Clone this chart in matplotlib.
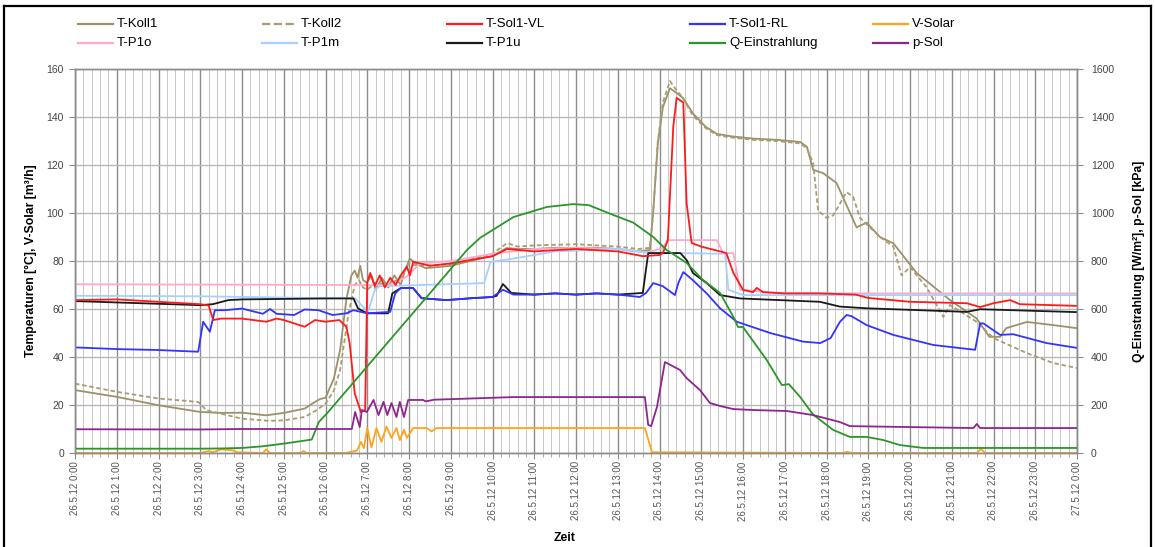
import matplotlib
matplotlib.use("Agg")
import matplotlib.pyplot as plt
from matplotlib.lines import Line2D
from matplotlib.ticker import MultipleLocator

plt.rcParams['font.family'] = ['Liberation Sans', 'DejaVu Sans']

# --- data (x in hours since 26.5.12 0:00) ---
tick_labels = ["26.5.12 %d:00" % h for h in range(24)] + ["27.5.12 0:00"]

koll1_h = [0, 1, 2, 3, 3.5, 4, 4.58, 5, 5.5, 5.75, 5.87, 6.0, 6.1, 6.2, 6.35, 6.5, 6.62, 6.7, 6.77,
           6.83, 6.9, 6.99, 7.1, 7.2, 7.35, 7.5, 7.65, 7.8, 7.9, 8.02, 8.15, 8.4, 9.0, 9.7, 10.0, 10.34,
           10.6, 11.0, 11.5, 12.0, 12.5, 13.0, 13.5, 13.77, 13.85, 13.96, 14.08, 14.25, 14.37, 14.56,
           14.8, 15.1, 15.37, 15.7, 16.24, 16.8, 17.37, 17.53, 17.68, 17.92, 18.24, 18.72, 18.96, 19.28,
           19.6, 20.16, 20.96, 21.6, 21.9, 22.16, 22.3, 22.8, 23.43, 24]
koll1 = [26.2, 23.4, 19.9, 17.1, 16.7, 16.8, 15.7, 16.7, 18.5, 21.3, 22.5, 23.0, 27, 31, 43, 64, 74, 76, 73,
         78, 72, 71, 74, 68, 73, 69, 74, 70, 76, 81, 79, 77, 78, 81, 82, 85.4,
         85, 85, 85.5, 85.5, 85.5, 85, 84, 84.6, 101, 129, 144, 152, 150.5, 148,
         141.5, 136, 133, 132, 131, 130.5, 129.6, 127.6, 118, 116.6, 112.5, 94, 96, 90,
         87.4, 75, 63.7, 56, 48.4, 48.4, 52, 54.6, 53.3, 52]

koll2_h = [0, 1, 2, 2.95, 3.15, 4, 4.65, 5, 5.5, 5.8, 6.0, 6.2, 6.35, 6.55, 6.7, 6.8, 6.9, 7.0, 7.2, 7.5,
           7.8, 8.0, 8.2, 9.0, 10.0, 10.35, 10.6, 11.0, 12.0, 13.0, 13.5, 13.77, 13.85, 13.96, 14.08,
           14.25, 14.37, 14.56, 14.8, 15.1, 15.37, 15.7, 16.24, 16.8, 17.37, 17.53, 17.68, 17.8, 18.0,
           18.16, 18.48, 18.64, 18.8, 19.28, 19.6, 19.8, 20.0, 20.4, 20.8, 20.96, 21.6, 22.0, 22.8,
           23.43, 24]
koll2 = [28.9, 25.5, 22.7, 21.3, 17.8, 14.3, 13.4, 13.6, 15, 18, 20.6, 26, 34.5, 58, 70, 72, 69, 68, 71, 70,
         73, 79, 78, 78.5, 83, 87.5, 86, 86.5, 87, 86, 85, 85.5, 100, 130, 146,
         155, 152, 148, 140.5, 135.5, 132.5, 131.5, 130.5, 130, 129, 127, 120.8, 101, 98,
         99, 108.7, 106.7, 98, 90, 86, 74, 77.5, 69, 56.7, 61.7, 54.6, 47.9, 41.6,
         37.5, 35.4]

vl_h = [0, 1, 2, 3, 3.2, 3.31, 3.5, 4, 4.58, 4.83, 5.0, 5.5, 5.75, 6.0, 6.33, 6.5, 6.58, 6.7, 6.85, 6.95,
        7.0, 7.07, 7.18, 7.3, 7.42, 7.55, 7.68, 7.8, 7.95, 8.02, 8.1, 8.5, 9.0, 10.0, 10.35, 11.0, 12.0,
        13.0, 13.6, 14.0, 14.08, 14.2, 14.33, 14.41, 14.57, 14.65, 14.77, 15.0, 15.45, 15.6, 15.77, 16.0,
        16.24, 16.33, 16.48, 17.0, 17.84, 18.7, 19.0, 20.0, 21.36, 21.68, 22.0, 22.4, 22.63, 24]
vl = [63.7, 64, 63, 62, 61.5, 55.4, 56, 56, 54.7, 56, 55.4, 52.6, 55.4, 54.7, 55.4, 52.6, 45.6, 24.8, 17, 18,
      71, 75, 69.6, 74, 69, 73, 70, 74, 77.6, 74, 79.7, 78, 79, 82, 85, 84, 85,
      84, 82, 82.5, 83.3, 88.7, 136, 148, 146, 104, 87.5, 86, 84, 83.3, 75, 68,
      67, 68.8, 67, 66.5, 66.5, 66, 64.6, 63, 62.4, 60.8, 62.4, 63.7, 62, 61.3]

rl_h = [0, 1, 2, 2.95, 3.07, 3.23, 3.35, 3.6, 4.0, 4.5, 4.67, 4.83, 5.25, 5.5, 5.83, 6.17, 6.5, 6.67, 7.0,
        7.55, 7.67, 7.8, 8.1, 8.3, 8.9, 9.5, 10.0, 10.25, 10.5, 11.0, 11.5, 12.0, 12.5, 13.0, 13.53,
        13.68, 13.85, 14.08, 14.37, 14.45, 14.57, 14.8, 15.13, 15.45, 15.85, 16.65, 17.44, 17.85, 18.1,
        18.32, 18.48, 18.6, 18.96, 19.6, 20.56, 21.56, 21.68, 21.76, 22.16, 22.47, 23.27, 24]
rl = [44, 43.3, 42.9, 42.2, 54.7, 50.5, 59.5, 59.5, 60.2, 58, 60, 58, 57.5, 59.8, 59.5, 57.5, 58.2, 59.5, 58.2,
      58.8, 66.5, 68.7, 68.7, 64.5, 63.7, 64.5, 65, 68, 66, 66, 66.5, 66, 66.5, 66, 65,
      66.7, 70.8, 69.5, 65.8, 70.8, 75.4, 72, 66.5, 60.3, 54.7, 50, 46.4, 45.8, 47.9,
      54.6, 57.5, 57, 53.3, 49.2, 45, 43, 54, 54, 49.2, 49.5, 45.8, 43.8]

vsolar_h = [0, 3.0, 3.2, 3.3, 3.5, 3.75, 3.9, 4.5, 4.58, 4.67, 5.0, 5.4, 5.47, 5.55, 6.5, 6.6, 6.75, 6.85,
            6.92, 7.0, 7.1, 7.22, 7.34, 7.46, 7.58, 7.7, 7.78, 7.88, 7.95, 8.1, 8.42, 8.54, 8.66, 13.65,
            13.82, 18.4, 18.5, 18.6, 21.6, 21.7, 21.8, 24]
vsolar = [0, 0, 0.8, 0.3, 1.5, 1.2, 0.3, 0, 1.5, 0, 0, 0, 0.8, 0, 0, 0.5, 1, 4.6,
          2, 10.4, 2.3, 10.4, 4.6, 11, 6.3, 10.4, 5.4, 9.7, 6.3, 10.4, 10.4, 9, 10.4, 10.4,
          0.3, 0, 0.5, 0, 0, 1.7, 0, 0]

p1o_h = [0, 6.8, 7.55, 7.95, 8.26, 9.0, 10.0, 11.0, 12.0, 13.0, 13.7, 14.08, 14.2, 15.37, 15.53, 15.77,
         15.93, 17.0, 24]
p1o = [70.3, 70, 70, 73.5, 79, 80, 83, 85, 85.5, 85, 83.5, 85.4, 88.7, 88.7, 83.3, 83.3,
       68, 66.5, 66.5]

p1m_h = [0, 3.0, 6.0, 6.7, 7.02, 7.18, 7.3, 9.8, 9.95, 10.5, 11.5, 13.0, 13.8, 15.57, 15.65, 16.0, 24]
p1m = [65.5, 65.3, 64.5, 64.5, 58.8, 68, 69.5, 70.8, 79.6, 81, 84, 85, 83.5, 83, 68, 65.8, 65.8]

p1u_h = [0, 3.0, 3.3, 3.67, 4.0, 6.0, 6.67, 6.78, 7.0, 7.5, 7.6, 7.8, 8.1, 8.3, 8.9, 9.5, 10.0, 10.1, 10.25,
         10.45, 11.0, 11.5, 12.0, 12.5, 13.0, 13.6, 13.73, 14.5, 14.65, 14.8, 15.13, 15.45, 15.93, 17.84,
         18.32, 18.96, 21.36, 21.68, 24]
p1u = [63.3, 61.6, 62, 63.7, 64, 64.4, 64.4, 60.2, 58.2, 58.2, 66.5, 68.7, 68.7, 64.5, 63.7, 64.5, 65, 65.5, 70.4,
       66.7, 66, 66.5, 66, 66.5, 66, 66.7, 83.3, 83.3, 80.4, 75, 70.8, 65.8, 64.4, 63,
       61, 60.3, 58.8, 59.9, 58.7]

q_h = [0, 3.0, 3.5, 4.0, 4.5, 5.0, 5.67, 5.84, 6.04, 9.39, 9.7, 10.5, 11.3, 11.93, 12.3, 12.89, 13.37,
       13.85, 14.17, 14.65, 15.04, 15.45, 15.77, 15.88, 16.0, 16.57, 16.93, 17.1, 17.37, 17.68, 18.16,
       18.56, 18.96, 19.36, 19.76, 20.32, 24]
q = [18, 18, 19, 21, 28, 39, 56, 129, 166, 846, 896, 983, 1025, 1037, 1033, 992, 960,
     900, 846, 792, 721, 667, 567, 525, 525, 387, 283, 287, 233, 160, 96,
     67, 67, 54, 33, 21, 21]

psol_h = [0, 3.0, 4.0, 6.63, 6.71, 6.82, 6.87, 6.99, 7.15, 7.27, 7.39, 7.48, 7.58, 7.7, 7.78, 7.88, 7.98,
          8.05, 8.34, 8.4, 8.6, 10.5, 13.65, 13.73, 13.8, 13.94, 14.13, 14.49, 14.65, 14.97, 15.21, 15.45,
          15.77, 16.25, 17.05, 17.68, 18.32, 18.56, 20.0, 21.52, 21.6, 21.68, 24]
psol = [99, 98, 100, 100, 171, 108, 179, 171, 221, 158, 213, 158, 208, 150, 213, 150, 221,
        221, 221, 215, 222, 233, 233, 117, 112, 192, 379, 346, 312, 262, 208, 196,
        183, 179, 175, 158, 129, 112, 108, 104, 121, 104, 104]

# --- figure ---
fig = plt.figure(figsize=(11.55, 5.47), dpi=100)
ax = fig.add_axes([75 / 1155, 1 - 453 / 547, 1002 / 1155, 384 / 547])
ax2 = ax.twinx()

lw = 1.3
l_koll1, = ax.plot(koll1_h, koll1, color='#9c9169', lw=lw, label='T-Koll1')
l_koll2, = ax.plot(koll2_h, koll2, color='#a89c72', lw=lw, ls=(0, (2.5, 1.5)), label='T-Koll2')
l_p1o, = ax.plot(p1o_h, p1o, color='#ffaacc', lw=lw, label='T-P1o')
l_p1m, = ax.plot(p1m_h, p1m, color='#a6d0ff', lw=lw, label='T-P1m')
l_p1u, = ax.plot(p1u_h, p1u, color='#1a1a1a', lw=lw, label='T-P1u')
l_rl, = ax.plot(rl_h, rl, color='#3333ff', lw=lw, label='T-Sol1-RL')
l_vl, = ax.plot(vl_h, vl, color='#ff1a1a', lw=lw, label='T-Sol1-VL')
l_vs, = ax.plot(vsolar_h, vsolar, color='#ffa31a', lw=lw, label='V-Solar')
l_q, = ax2.plot(q_h, q, color='#2a962a', lw=lw, label='Q-Einstrahlung')
l_p, = ax2.plot(psol_h, psol, color='#8e258f', lw=lw, label='p-Sol')

ax.set_xlim(0, 24)
ax.set_ylim(0, 160)
ax2.set_ylim(0, 1600)
ax.set_xticks(range(25))
ax.set_xticklabels(tick_labels, rotation=90, fontsize=7, color='#555555')
ax.xaxis.set_minor_locator(MultipleLocator(0.2))
ax.yaxis.set_major_locator(MultipleLocator(20))
ax2.yaxis.set_major_locator(MultipleLocator(200))

ax.grid(which='major', axis='y', color='#b8b8b8', lw=1.0)
ax.grid(which='major', axis='x', color='#8c8c8c', lw=1.0)
ax.grid(which='minor', axis='x', color='#c8c8c8', lw=0.7)
ax.set_axisbelow(True)

for a in (ax, ax2):
    for s in a.spines.values():
        s.set_color('#8c8c8c')
        s.set_linewidth(1.0)
ax.tick_params(axis='x', which='major', length=4, color='#8c8c8c', pad=2)
ax.tick_params(axis='x', which='minor', length=3, color='#a0a0a0')
ax.tick_params(axis='y', length=4, color='#8c8c8c', labelsize=7.5, labelcolor='#444444', pad=4)
ax2.tick_params(axis='y', length=4, color='#8c8c8c', labelsize=7.5, labelcolor='#444444', pad=6)

ax.set_ylabel('Temperaturen [°C], V-Solar [m³/h]', fontsize=8.8, fontweight='bold')
ax.yaxis.set_label_coords(-0.038, 0.5)
ax2.set_ylabel('Q-Einstrahlung [W/m²], p-Sol [kPa]', fontsize=8.8, fontweight='bold', rotation=90)
ax2.yaxis.set_label_coords(1.056, 0.5)
ax.set_xlabel('Zeit', fontsize=8.8, fontweight='bold')
ax.xaxis.set_label_coords(0.489, -0.206)

# legend, Excel-style layout
W, H = 1155, 547
rows = [[l_koll1, l_koll2, l_vl, l_rl, l_vs],
        [l_p1o, l_p1m, l_p1u, l_q, l_p]]
col_x = [78, 262, 447, 690, 873]
row_y = [24, 43]
for r, row in enumerate(rows):
    for c, ln in enumerate(row):
        x0, y0 = col_x[c], row_y[r]
        fig.add_artist(Line2D([x0 / W, (x0 + 35) / W], [1 - y0 / H] * 2, color=ln.get_color(),
                              lw=1.6, ls=ln.get_linestyle(), transform=fig.transFigure))
        fig.text((x0 + 39) / W, 1 - y0 / H, ln.get_label(), fontsize=9.5, va='center', ha='left')

# outer frame
frame = [([4 / W, 4 / W], [0, 1 - 6 / H]), ([4 / W, 1151 / W], [1 - 6 / H, 1 - 6 / H]),
         ([1151 / W, 1151 / W], [0, 1 - 6 / H])]
for xs, ys in frame:
    fig.add_artist(Line2D(xs, ys, color='black', lw=1.6, transform=fig.transFigure))

fig.savefig('out.png', dpi=100)
